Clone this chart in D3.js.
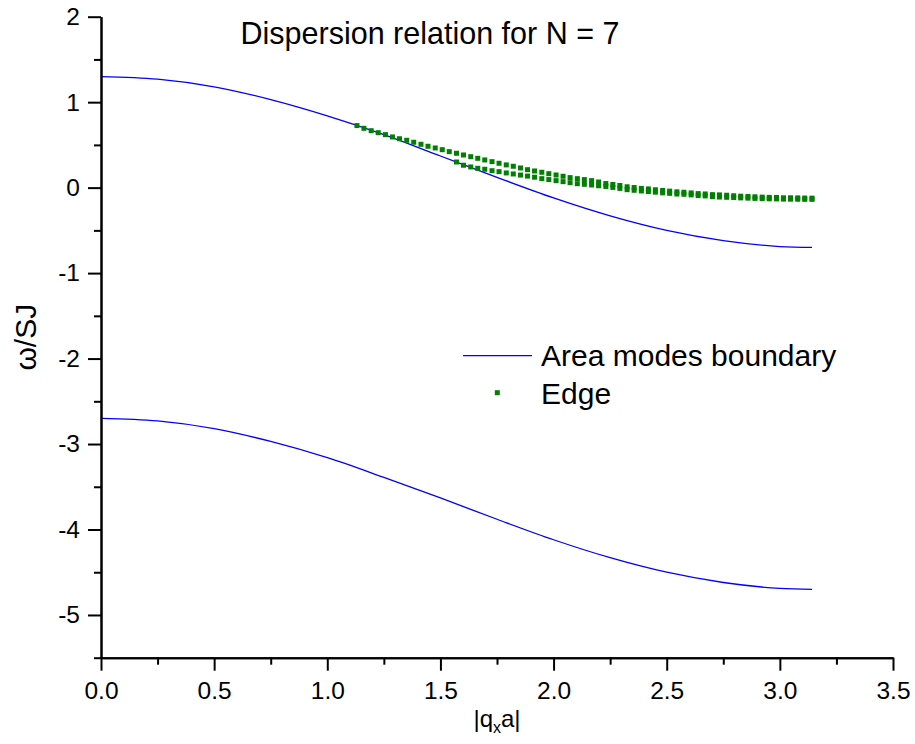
<!DOCTYPE html>
<html>
<head>
<meta charset="utf-8">
<script src="https://cdn.jsdelivr.net/npm/d3@7"></script>
<style>
  body { margin: 0; background: #fff; }
  svg { display: block; font-family: "Liberation Sans", Arial, sans-serif; }
</style>
</head>
<body>
<div id="chart"></div>
<script>
// Area modes boundary, sampled along |q_x a|
const qBoundary = [0, 0.25, 0.5, 0.75, 1.0, 1.25, 1.5, 1.75, 2.0, 2.25, 2.5, 2.75, 3.0, 3.142];
const upperBoundary = [1.30, 1.27, 1.18, 1.03, 0.84, 0.62, 0.37, 0.12, -0.12, -0.33, -0.50, -0.62, -0.69, -0.70];
const lowerBoundary = [-2.70, -2.73, -2.82, -2.97, -3.16, -3.39, -3.63, -3.88, -4.12, -4.33, -4.50, -4.62, -4.69, -4.70];

// Edge modes: q grid and two branches
const qEdge = [
  1.131, 1.162, 1.194, 1.225, 1.257, 1.288, 1.319, 1.351, 1.382, 1.414,
  1.445, 1.477, 1.508, 1.539, 1.571, 1.602, 1.634, 1.665, 1.696, 1.728,
  1.759, 1.791, 1.822, 1.854, 1.885, 1.916, 1.948, 1.979, 2.011, 2.042,
  2.073, 2.105, 2.136, 2.168, 2.199, 2.231, 2.262, 2.293, 2.325, 2.356,
  2.388, 2.419, 2.450, 2.482, 2.513, 2.545, 2.576, 2.608, 2.639, 2.670,
  2.702, 2.733, 2.765, 2.796, 2.827, 2.859, 2.890, 2.922, 2.953, 2.985,
  3.016, 3.047, 3.079, 3.110, 3.142
];
const edgeUpper = [
  0.726, 0.694, 0.666, 0.643, 0.620, 0.593, 0.572, 0.554, 0.531, 0.507,
  0.484, 0.464, 0.444, 0.421, 0.402, 0.382, 0.362, 0.343, 0.324, 0.304,
  0.285, 0.266, 0.250, 0.230, 0.210, 0.195, 0.180, 0.163, 0.148, 0.133,
  0.117, 0.105, 0.094, 0.082, 0.066, 0.048, 0.037, 0.025, 0.010, 0.001,
  -0.009, -0.015, -0.025, -0.033, -0.041, -0.049, -0.054, -0.062, -0.070, -0.074,
  -0.082, -0.085, -0.089, -0.095, -0.100, -0.103, -0.107, -0.111, -0.114, -0.115,
  -0.119, -0.119, -0.120, -0.122, -0.123
];
// second branch starts at q = pi/2 (index 14 of qEdge)
const edgeLowerStart = 14;
const edgeLower = [
  0.300, 0.262, 0.242, 0.226, 0.215, 0.198, 0.187, 0.172, 0.160, 0.147,
  0.135, 0.122, 0.105, 0.094, 0.082, 0.070, 0.058, 0.046, 0.039, 0.031,
  0.022, 0.014, 0.003, -0.009, -0.024, -0.031, -0.039, -0.046, -0.053, -0.061,
  -0.067, -0.075, -0.078, -0.085, -0.093, -0.097, -0.105, -0.110, -0.113, -0.116,
  -0.120, -0.123, -0.126, -0.129, -0.131, -0.132, -0.134, -0.135, -0.136, -0.137,
  -0.137
];

const xMajor = [0, 0.5, 1.0, 1.5, 2.0, 2.5, 3.0, 3.5];
const xMinor = [0.25, 0.75, 1.25, 1.75, 2.25, 2.75, 3.25];
const yMajor = [-5, -4, -3, -2, -1, 0, 1, 2];
const yMinor = [-5.5, -4.5, -3.5, -2.5, -1.5, -0.5, 0.5, 1.5];

const titleText = "Dispersion relation for N = 7";
const legendLabels = ["Area modes boundary", "Edge"];

function draw() {
  const width = 915, height = 744;
  const plot = { left: 101, right: 893, top: 16.7, bottom: 657.7 };

  const svg = d3.select("#chart").append("svg")
    .attr("width", width).attr("height", height);

  const x = d3.scaleLinear().domain([0, 3.5]).range([plot.left, plot.right]);
  const y = d3.scaleLinear().domain([-5.5, 2]).range([plot.bottom, plot.top]);

  // boundary curves
  const line = d3.line()
    .x((d, i) => x(qBoundary[i]))
    .y(d => y(d))
    .curve(d3.curveCatmullRom);

  [upperBoundary, lowerBoundary].forEach(series => {
    svg.append("path")
      .attr("d", line(series))
      .attr("fill", "none")
      .attr("stroke", "#0000ff")
      .attr("stroke-width", 1.3);
  });

  // edge points
  const pts = edgeUpper.map((v, i) => [qEdge[i], v])
    .concat(edgeLower.map((v, i) => [qEdge[i + edgeLowerStart], v]));
  const sq = 5;
  svg.append("g").selectAll("rect")
    .data(pts)
    .join("rect")
    .attr("x", d => x(d[0]) - sq / 2)
    .attr("y", d => y(d[1]) - sq / 2)
    .attr("width", sq)
    .attr("height", sq)
    .attr("fill", "#008000");

  // axes
  const fmtX = d => d.toFixed(1);
  const fmtY = d => String(d);

  const xAxisG = svg.append("g").attr("transform", `translate(0,${plot.bottom})`);
  xAxisG.append("g").call(d3.axisBottom(x).tickValues(xMinor).tickSize(7).tickSizeOuter(0).tickFormat(""));
  xAxisG.append("g").call(d3.axisBottom(x).tickValues(xMajor).tickSize(13).tickSizeOuter(0).tickPadding(11).tickFormat(fmtX));

  const yAxisG = svg.append("g").attr("transform", `translate(${plot.left},0)`);
  yAxisG.append("g").call(d3.axisLeft(y).tickValues(yMinor).tickSize(7).tickSizeOuter(0).tickFormat(""));
  yAxisG.append("g").call(d3.axisLeft(y).tickValues(yMajor).tickSize(13).tickSizeOuter(0).tickPadding(8).tickFormat(fmtY));

  svg.selectAll(".domain, .tick line")
    .attr("stroke", "#000")
    .attr("stroke-width", 2);
  svg.selectAll(".tick text")
    .attr("fill", "#000")
    .style("font-size", "24.5px")
    .style("font-family", "'Liberation Sans', Arial, sans-serif");

  // axis titles
  const xl = svg.append("text")
    .attr("x", (plot.left + plot.right) / 2)
    .attr("y", 727)
    .attr("text-anchor", "middle")
    .style("font-size", "24px");
  xl.append("tspan").text("|q");
  xl.append("tspan").attr("dy", 6).style("font-size", "16px").text("x");
  xl.append("tspan").attr("dy", -6).text("a|");

  svg.append("text")
    .attr("transform", `translate(36,${(plot.top + plot.bottom) / 2}) rotate(-90)`)
    .attr("text-anchor", "middle")
    .style("font-size", "30px")
    .text("ω/SJ");

  // title
  svg.append("text")
    .attr("x", 430)
    .attr("y", 44)
    .attr("text-anchor", "middle")
    .style("font-size", "30.5px")
    .text(titleText);

  // legend
  const lg = svg.append("g");
  lg.append("line")
    .attr("x1", 463).attr("x2", 532)
    .attr("y1", 355.7).attr("y2", 355.7)
    .attr("stroke", "#0000ff").attr("stroke-width", 1.3);
  lg.append("text")
    .attr("x", 541).attr("y", 366)
    .style("font-size", "30px")
    .text(legendLabels[0]);
  lg.append("rect")
    .attr("x", 497.3 - sq / 2).attr("y", 392.7 - sq / 2)
    .attr("width", sq).attr("height", sq)
    .attr("fill", "#008000");
  lg.append("text")
    .attr("x", 541).attr("y", 404)
    .style("font-size", "30px")
    .text(legendLabels[1]);
}

draw();
</script>
</body>
</html>
